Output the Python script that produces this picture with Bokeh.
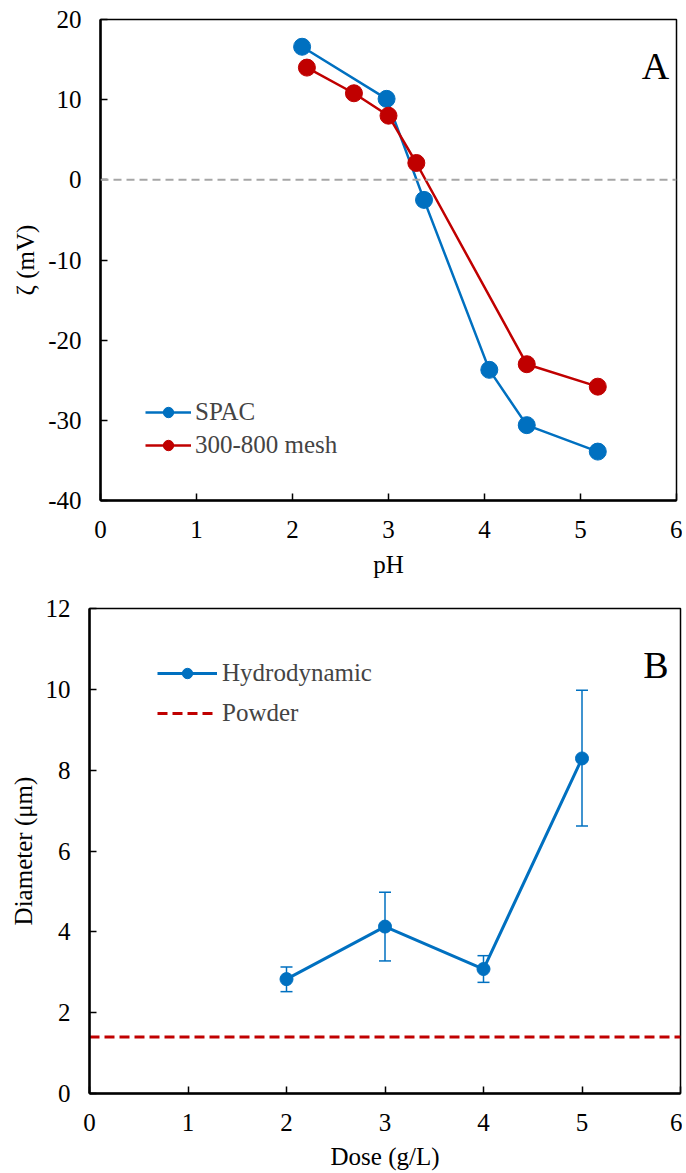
from bokeh.plotting import figure
from bokeh.models import (ColumnDataSource, Span, Label, Legend, LegendItem, Whisker,
                          TeeHead, FixedTicker, Range1d, CustomJSTickFormatter)
from bokeh.embed import file_html
from bokeh.resources import INLINE

# ---- Panel A data ----
spac_ph = [2.10, 2.98, 3.37, 4.05, 4.44, 5.18]
spac_zeta = [16.6, 10.1, -2.5, -23.7, -30.6, -33.9]
mesh_ph = [2.15, 2.64, 3.00, 3.29, 4.44, 5.18]
mesh_zeta = [14.0, 10.8, 8.0, 2.1, -23.0, -25.8]
zeta_ticks = [-40, -30, -20, -10, 0, 10, 20]
ph_ticks = [0, 1, 2, 3, 4, 5, 6]

# ---- Panel B data ----
dose = [2, 3, 4, 5]
hydro_diam = [2.83, 4.13, 3.08, 8.29]
hydro_upper = [3.13, 4.98, 3.41, 9.98]
hydro_lower = [2.52, 3.28, 2.75, 6.62]
powder_diam = 1.4
diam_ticks = [0, 2, 4, 6, 8, 10, 12]
dose_ticks = [0, 1, 2, 3, 4, 5, 6]

BLUE = "#0070C0"
RED = "#C00000"
FONT = "'Liberation Serif', 'Times New Roman', serif"
TICK_FS = "25px"
FS = "25px"


def style(p):
    p.outline_line_color = "black"
    p.outline_line_width = 1.5
    p.xgrid.visible = False
    p.ygrid.visible = False
    for ax in (p.xaxis[0], p.yaxis[0]):
        ax.axis_line_width = 2.5
        ax.axis_line_color = "black"
        ax.major_tick_in = 7
        ax.major_tick_out = 0
        ax.major_tick_line_width = 1.5
        ax.minor_tick_line_color = None
        ax.major_label_text_font = FONT
        ax.major_label_text_font_size = TICK_FS
        ax.major_label_text_color = "black"
        ax.axis_label_text_font = FONT
        ax.axis_label_text_font_size = FS
        ax.axis_label_text_font_style = "normal"
        ax.axis_label_text_color = "black"
        ax.formatter = CustomJSTickFormatter(code="return tick.toString();")
    p.yaxis.major_label_standoff = 19
    p.xaxis.major_label_standoff = 20


# ================= Panel A =================
pa = figure(width=682, height=580, output_backend="svg", toolbar_location=None,
            x_range=Range1d(0, 6), y_range=Range1d(-40, 20),
            min_border_left=100, min_border_right=6, min_border_top=19, min_border_bottom=80)
style(pa)
pa.xaxis.ticker = FixedTicker(ticks=ph_ticks)
pa.yaxis.ticker = FixedTicker(ticks=zeta_ticks)
pa.xaxis.axis_label = "pH"
pa.yaxis.axis_label = "ζ (mV)"
pa.xaxis.axis_label_standoff = 10
pa.yaxis.axis_label_standoff = 6

pa.add_layout(Span(location=0, dimension="width", line_color="#A6A6A6",
                   line_width=2, line_dash="8 5"))

l1 = pa.line(spac_ph, spac_zeta, line_color=BLUE, line_width=2.5)
s1 = pa.scatter(spac_ph, spac_zeta, size=17, fill_color=BLUE, line_color=BLUE)
l2 = pa.line(mesh_ph, mesh_zeta, line_color=RED, line_width=2.5)
s2 = pa.scatter(mesh_ph, mesh_zeta, size=17, fill_color=RED, line_color=RED)

leg_a = Legend(items=[LegendItem(label="SPAC", renderers=[l1, s1]),
                      LegendItem(label="300-800 mesh", renderers=[l2, s2])],
               location=(45, 41), glyph_width=46, glyph_height=26, spacing=5,
               padding=0, margin=0, label_standoff=4,
               label_text_font=FONT, label_text_font_size=FS,
               border_line_alpha=0, background_fill_alpha=0)
pa.add_layout(leg_a)

pa.add_layout(Label(x=5.78, y=14.2, text="A", text_font=FONT, text_font_size="38px",
                    text_align="center", text_baseline="alphabetic", text_color="black"))

# ================= Panel B =================
pb = figure(width=682, height=592, output_backend="svg", toolbar_location=None,
            x_range=Range1d(0, 6), y_range=Range1d(0, 12),
            min_border_left=89, min_border_right=2, min_border_top=28, min_border_bottom=79)
style(pb)
pb.xaxis.ticker = FixedTicker(ticks=dose_ticks)
pb.yaxis.ticker = FixedTicker(ticks=diam_ticks)
pb.xaxis.axis_label = "Dose (g/L)"
pb.yaxis.axis_label = "Diameter (μm)"
pb.xaxis.axis_label_standoff = 9
pb.yaxis.axis_label_standoff = 6

src = ColumnDataSource(dict(x=dose, y=hydro_diam, upper=hydro_upper, lower=hydro_lower))
pb.add_layout(Whisker(source=src, base="x", upper="upper", lower="lower",
                      line_color=BLUE, line_width=1.5,
                      upper_head=TeeHead(size=12, line_color=BLUE, line_width=1.5),
                      lower_head=TeeHead(size=12, line_color=BLUE, line_width=1.5)))
hl = pb.line("x", "y", source=src, line_color=BLUE, line_width=3)
hs = pb.scatter("x", "y", source=src, size=13, fill_color=BLUE, line_color=BLUE)

pl = pb.line([pb.x_range.start, pb.x_range.end], [powder_diam, powder_diam],
             line_color=RED, line_width=3, line_dash="10 5")

leg_b = Legend(items=[LegendItem(label="Hydrodynamic", renderers=[hl, hs]),
                      LegendItem(label="Powder", renderers=[pl])],
               location=(68, 366), glyph_width=60, glyph_height=26, spacing=12,
               padding=0, margin=0, label_standoff=5,
               label_text_font=FONT, label_text_font_size=FS,
               border_line_alpha=0, background_fill_alpha=0)
pb.add_layout(leg_b)

pb.add_layout(Label(x=5.75, y=10.6, text="B", text_font=FONT, text_font_size="38px",
                    text_align="center", text_baseline="alphabetic", text_color="black"))

open("out.html", "w").write(file_html([pa, pb], INLINE))
